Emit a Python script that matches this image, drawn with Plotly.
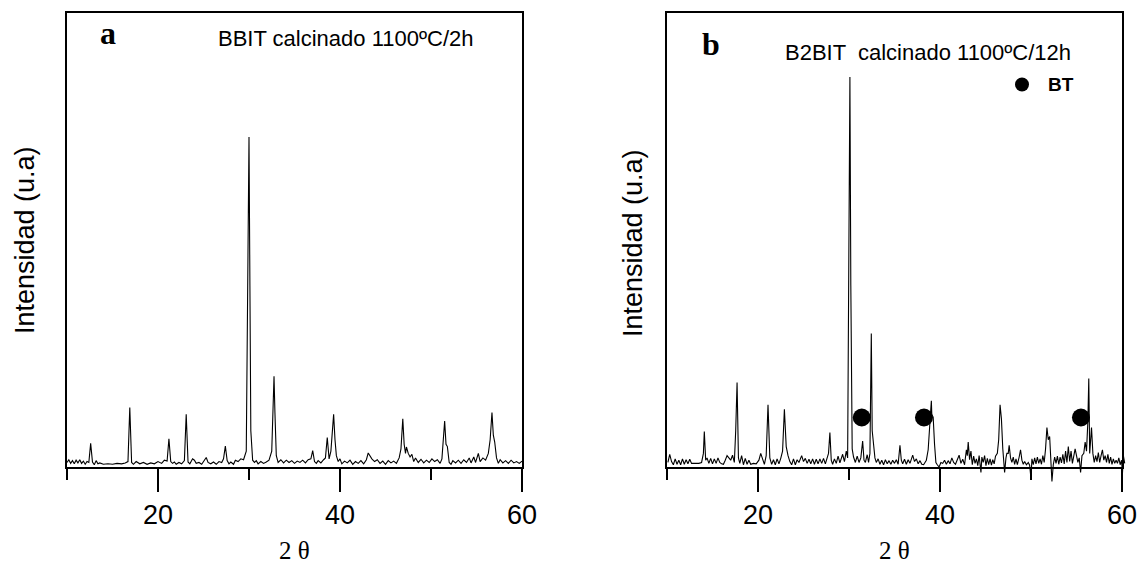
import plotly.graph_objects as go

# ---------------- data ----------------
two_theta_a = [10.0, 10.2, 10.4, 10.6, 10.8, 11.0, 11.2, 11.4, 11.6, 11.8, 12.0, 12.2, 12.4, 12.6, 12.8,
               13.0, 13.2, 13.4, 13.6, 14.0, 14.5, 15.0, 15.5, 16.0, 16.4, 16.7, 16.9, 17.1, 17.3, 17.6,
               18.0, 18.4, 18.8, 19.2, 19.6, 20.0, 20.4, 20.7, 21.0, 21.2, 21.4, 21.6, 21.8, 22.0, 22.3,
               22.6, 22.9, 23.1, 23.3, 23.5, 23.8, 24.0, 24.2, 24.5, 24.8, 25.0, 25.3, 25.5, 25.8, 26.1,
               26.4, 26.7, 27.0, 27.2, 27.4, 27.6, 27.8, 28.0, 28.3, 28.5, 28.8, 29.1, 29.4, 29.7, 29.9,
               30.0, 30.1, 30.2, 30.4, 30.6, 30.8, 31.0, 31.3, 31.6, 31.9, 32.2, 32.5, 32.65, 32.75, 32.85,
               33.0, 33.2, 33.5, 33.8, 34.1, 34.4, 34.7, 35.0, 35.3, 35.6, 35.9, 36.2, 36.5, 36.8, 37.0,
               37.2, 37.4, 37.6, 37.9, 38.2, 38.4, 38.6, 38.8, 39.0, 39.2, 39.3, 39.45, 39.6, 39.8, 40.0,
               40.2, 40.5, 40.8, 41.1, 41.4, 41.7, 42.0, 42.3, 42.6, 42.9, 43.1, 43.3, 43.5, 43.8, 44.1,
               44.4, 44.7, 45.0, 45.3, 45.6, 45.9, 46.2, 46.5, 46.7, 46.9, 47.05, 47.2, 47.3, 47.5, 47.7,
               47.9, 48.1, 48.3, 48.6, 48.9, 49.2, 49.5, 49.8, 50.1, 50.4, 50.7, 51.0, 51.2, 51.35, 51.5,
               51.65, 51.8, 52.0, 52.2, 52.4, 52.7, 53.0, 53.3, 53.6, 53.9, 54.2, 54.4, 54.7, 54.9, 55.2,
               55.4, 55.7, 56.0, 56.3, 56.5, 56.7, 56.85, 57.0, 57.2, 57.4, 57.6, 57.9, 58.2, 58.5, 58.8,
               59.1, 59.4, 59.7, 60.0]
intensity_a = [1.0, 1.6, 0.8, 1.4, 0.7, 1.5, 0.9, 1.6, 0.8, 1.3, 0.6, 1.2, 1.0, 5.2, 1.1,
               0.5, 1.4, 0.7, 0.9, 0.6, 0.7, 0.6, 0.8, 0.7, 0.9, 1.2, 13.1, 1.0, 0.6, 1.2,
               0.7, 1.0, 0.6, 0.9, 0.7, 1.2, 0.8, 1.5, 1.3, 6.2, 1.2, 0.8, 1.1, 0.6, 1.0,
               0.7, 1.4, 11.6, 1.1, 0.7, 1.8, 1.5, 0.8, 1.0, 0.6, 1.2, 2.1, 1.0, 0.7, 1.1,
               0.6, 1.2, 1.0, 1.8, 4.6, 1.4, 0.7, 1.1, 0.6, 1.5, 1.2, 1.8, 1.6, 3.5, 40.0,
               72.7, 40.0, 8.0, 1.5, 1.0, 1.4, 0.7, 1.2, 0.8, 1.1, 1.5, 3.5, 15.0, 20.0, 12.0,
               2.5, 1.0, 1.6, 0.9, 1.5, 1.0, 1.4, 0.8, 1.3, 1.0, 1.5, 0.9, 1.6, 1.8, 3.6,
               1.2, 0.8, 1.4, 0.9, 1.6, 2.0, 6.5, 1.8, 3.5, 9.0, 11.6, 6.0, 2.5, 1.2, 1.8,
               0.7, 1.3, 0.9, 1.5, 0.6, 1.2, 0.8, 1.4, 0.7, 1.6, 3.1, 2.4, 1.8, 1.2, 1.6,
               0.8, 1.3, 0.6, 1.4, 0.9, 1.3, 0.8, 2.0, 4.0, 10.6, 5.0, 3.0, 4.4, 3.0, 2.2,
               2.8, 1.2, 2.0, 1.0, 1.7, 0.9, 1.5, 1.0, 1.8, 1.2, 1.6, 0.8, 1.8, 6.0, 10.1,
               5.0, 4.5, 1.0, 0.6, 1.4, 0.9, 1.5, 0.8, 1.6, 1.0, 2.0, 0.9, 2.2, 1.0, 3.0,
               1.2, 2.0, 1.5, 3.0, 6.0, 12.0, 7.0, 5.5, 2.0, 0.8, 1.6, 0.9, 1.4, 0.8, 1.5,
               0.9, 1.2, 0.8, 1.3]

two_theta_b = [10.1, 10.3, 10.5, 10.7, 10.9, 11.1, 11.3, 11.5, 11.7, 11.9, 12.1, 12.3, 12.5, 12.7, 12.9,
               13.2, 13.5, 13.8, 14.0, 14.1, 14.25, 14.4, 14.6, 14.8, 15.0, 15.2, 15.4, 15.6, 15.8, 16.0,
               16.2, 16.4, 16.6, 16.8, 17.0, 17.2, 17.4, 17.55, 17.7, 17.85, 18.0, 18.2, 18.4, 18.6, 18.8,
               19.0, 19.2, 19.5, 19.8, 20.1, 20.3, 20.5, 20.7, 20.9, 21.1, 21.3, 21.5, 21.7, 21.9, 22.1,
               22.3, 22.5, 22.7, 22.9, 23.1, 23.3, 23.5, 23.7, 23.9, 24.1, 24.3, 24.5, 24.8, 25.0, 25.2,
               25.4, 25.6, 25.8, 26.0, 26.2, 26.4, 26.6, 26.8, 27.0, 27.2, 27.4, 27.6, 27.75, 27.9, 28.05,
               28.2, 28.4, 28.6, 28.8, 29.0, 29.3, 29.5, 29.7, 29.85, 30.0, 30.1, 30.2, 30.35, 30.5, 30.7,
               30.9, 31.1, 31.3, 31.5, 31.65, 31.8, 32.0, 32.15, 32.3, 32.45, 32.55, 32.7, 32.85, 33.0, 33.2,
               33.4, 33.6, 33.8, 34.0, 34.2, 34.4, 34.6, 34.8, 35.0, 35.2, 35.4, 35.6, 35.75, 35.9, 36.1,
               36.3, 36.5, 36.7, 37.0, 37.2, 37.4, 37.6, 37.8, 38.0, 38.2, 38.5, 38.7, 38.85, 39.05, 39.1,
               39.25, 39.4, 39.55, 39.7, 39.9, 40.1, 40.3, 40.5, 40.7, 40.9, 41.1, 41.3, 41.5, 41.7, 41.9,
               42.1, 42.3, 42.5, 42.7, 42.9, 43.0, 43.1, 43.25, 43.4, 43.55, 43.7, 43.85, 44.0, 44.15, 44.3,
               44.5, 44.6, 44.75, 44.9, 45.05, 45.2, 45.35, 45.5, 45.65, 45.8, 45.95, 46.1, 46.3, 46.45, 46.6,
               46.75, 46.9, 47.0, 47.1, 47.25, 47.35, 47.5, 47.6, 47.75, 47.9, 48.05, 48.2, 48.35, 48.5, 48.7,
               48.85, 49.0, 49.15, 49.3, 49.5, 49.7, 49.85, 50.0, 50.1, 50.25, 50.4, 50.55, 50.7, 50.85, 51.0,
               51.15, 51.3, 51.45, 51.6, 51.75, 51.9, 52.05, 52.15, 52.3, 52.45, 52.6, 52.75, 52.9, 53.05, 53.2,
               53.35, 53.5, 53.65, 53.8, 53.95, 54.1, 54.25, 54.4, 54.55, 54.7, 54.85, 55.0, 55.15, 55.3, 55.45,
               55.6, 55.8, 55.95, 56.1, 56.25, 56.35, 56.45, 56.55, 56.65, 56.8, 56.95, 57.1, 57.25, 57.4, 57.55,
               57.7, 57.85, 58.0, 58.15, 58.3, 58.45, 58.6, 58.75, 58.9, 59.05, 59.2, 59.35, 59.5, 59.65, 59.8,
               59.95, 60.05, 60.15, 60.3]
intensity_b = [1.0, 2.8, 1.2, 0.5, 1.8, 0.6, 1.5, 0.5, 1.8, 0.6, 1.6, 0.7, 1.7, 0.8, 0.8,
               0.8, 0.8, 1.0, 3.0, 7.8, 1.5, 2.0, 0.8, 1.9, 0.7, 1.8, 0.8, 2.0, 1.0, 0.7,
               0.6, 1.5, 2.5, 2.0, 1.5, 2.6, 1.0, 8.0, 18.6, 2.0, 0.8, 2.5, 0.5, 1.9, 0.6,
               1.5, 0.6, 0.8, 0.7, 1.5, 3.0, 1.8, 0.6, 2.5, 13.7, 2.0, 0.6, 1.6, 0.5, 1.8,
               0.7, 1.9, 3.5, 12.7, 4.5, 2.5, 1.2, 0.5, 1.8, 0.5, 1.6, 1.0, 2.5, 1.2, 1.9,
               0.8, 1.7, 0.7, 1.8, 0.6, 1.7, 0.7, 1.8, 0.8, 1.9, 0.7, 2.0, 3.0, 7.6, 1.5,
               0.6, 1.8, 0.8, 2.4, 0.9, 2.8, 1.2, 3.5, 2.0, 40.0, 85.9, 40.0, 4.0, 2.2, 1.0,
               2.4, 1.0, 2.0, 5.7, 1.5, 1.0, 2.7, 1.0, 3.0, 29.4, 8.0, 5.5, 2.0, 1.0, 1.8,
               0.6, 1.5, 0.5, 1.6, 0.7, 1.4, 0.6, 1.5, 0.8, 1.6, 0.6, 4.8, 1.5, 0.7, 1.7,
               0.6, 1.6, 0.8, 2.6, 1.2, 1.8, 0.7, 1.4, 0.6, 0.5, 1.5, 3.8, 8.0, 14.6, 11.5,
               11.0, 5.0, 1.0, 0.5, 0.0, 1.0, 0.8, 1.5, 0.6, 1.4, 0.7, 2.0, 1.0, 0.6, 1.5,
               2.6, 0.8, 1.7, 0.5, 3.8, 2.5, 5.5, 1.6, 3.5, 0.5, 2.4, 0.8, 1.8, 0.3, 2.5,
               -1.2, 2.2, 1.0, 2.5, 0.3, 1.9, 0.5, 1.8, 0.4, 1.6, 0.7, 2.4, 3.0, 6.0, 13.7,
               10.6, 4.0, 1.0, -1.2, 2.0, 3.0, 3.0, 4.8, 2.0, 1.0, 2.2, 0.6, 1.8, 0.5, 2.2,
               3.8, 1.5, 0.6, 1.2, 0.5, 1.0, 0.4, -2.6, 1.8, 0.5, 2.0, 0.7, 2.2, 0.8, 1.8,
               0.6, 2.5, 1.0, 4.0, 8.7, 6.0, 6.7, 2.0, -3.2, 0.5, 2.2, 0.8, 2.4, 0.6, 2.2,
               0.9, 2.8, 0.7, 3.5, 1.0, 4.5, 1.2, 3.5, 0.8, 3.0, 4.0, 2.5, 1.0, 2.0, -1.2,
               2.5, 3.0, 5.5, 3.5, 10.0, 19.5, 3.0, 6.0, 8.7, 3.0, 1.0, 2.5, 1.2, 3.2, 1.0,
               2.5, 3.8, 1.5, 2.5, 1.0, 2.8, 0.8, 2.2, 0.6, 1.8, 0.8, 1.5, 0.8, 2.0, 0.5,
               1.5, -1.5, 2.5, 0.8]

bt_positions = [31.4, 38.24, 55.49]
bt_level = [10.9, 10.9, 10.9]

x_ticks = [20, 40, 60]
x_minor_ticks = [10, 30, 50]
x_range = [10, 60]
y_range = [0, 100]

# ---------------- layout geometry (pixels of the 1142 x 563 target) ----------------
W, H = 1142, 563
FIG_W = 1157          # the captured picture comes out ~1.3 % narrower than the page
TOP, BOT = 13, 467
PANELS = [(67, 522), (667, 1122)]
EXT_B, EXT_R = 24, 12


def fx(px):
    return px / W


def fy(py):
    return 1 - py / H


fig = go.Figure()

tickfont = dict(family="Liberation Sans, Arial, sans-serif", size=27, color="black")

layout = dict(
    width=FIG_W, height=H, autosize=False,
    margin=dict(l=0, r=0, t=0, b=0),
    paper_bgcolor="white",
    plot_bgcolor="rgba(0,0,0,0)",
    showlegend=False,
)

ppu_y = (BOT - TOP) / (y_range[1] - y_range[0])
for i, (x0, x1) in enumerate(PANELS):
    n = i + 1
    xs = "" if n == 1 else str(n)
    ppu_x = (x1 - x0) / (x_range[1] - x_range[0])
    layout["xaxis" + xs] = dict(
        domain=[fx(x0), fx(x1)], range=x_range, anchor="y" + xs,
        tickmode="array", tickvals=x_ticks, ticks="outside", ticklen=23, tickwidth=2,
        tickcolor="black", showline=True, linewidth=2, linecolor="black", mirror=True,
        showgrid=False, zeroline=False, tickfont=tickfont,
        minor=dict(ticks="outside", ticklen=11, tickwidth=2, tickcolor="black",
                   tickmode="array", tickvals=x_minor_ticks, showgrid=False),
    )
    layout["yaxis" + xs] = dict(
        domain=[fy(BOT), fy(TOP)], range=y_range, anchor="x" + xs,
        showline=True, linewidth=2, linecolor="black", mirror=True,
        ticks="", showticklabels=False, showgrid=False, zeroline=False,
    )
    m = n + 2
    layout["xaxis%d" % m] = dict(
        domain=[fx(x0), fx(x1 + EXT_R)],
        range=[x_range[0], x_range[1] + EXT_R / ppu_x],
        anchor="y%d" % m, visible=False,
    )
    layout["yaxis%d" % m] = dict(
        domain=[fy(BOT + EXT_B), fy(TOP)],
        range=[y_range[0] - EXT_B / ppu_y, y_range[1]],
        anchor="x%d" % m, visible=False,
    )

fig.update_layout(**layout)

for xs in ["", "2"]:
    fig.add_trace(go.Scatter(x=[x_range[0]], y=[y_range[0]], mode="markers",
                             marker=dict(opacity=0), hoverinfo="skip",
                             xaxis="x" + xs, yaxis="y" + xs, showlegend=False))

fig.add_trace(go.Scatter(x=two_theta_a, y=intensity_a, mode="lines",
                         line=dict(color="black", width=1.1), xaxis="x3", yaxis="y3",
                         name="BBIT"))
fig.add_trace(go.Scatter(x=two_theta_b, y=intensity_b, mode="lines",
                         line=dict(color="black", width=1.1), xaxis="x4", yaxis="y4",
                         name="B2BIT"))
fig.add_trace(go.Scatter(x=bt_positions, y=bt_level, mode="markers",
                         marker=dict(color="black", size=18, symbol="circle"),
                         xaxis="x4", yaxis="y4", name="BT", cliponaxis=False))

ann = []
serif = "Liberation Serif, Times New Roman, serif"
sans = "Liberation Sans, Arial, sans-serif"
for xc, yc in [(25, 240), (633, 243)]:
    ann.append(dict(text="Intensidad (u.a)", x=fx(xc), y=fy(yc), xref="paper", yref="paper",
                    textangle=-90, showarrow=False, xanchor="center", yanchor="middle",
                    font=dict(family=sans, size=27, color="black")))
for xc in [294.5, 894.5]:
    ann.append(dict(text="2 θ", x=fx(xc), y=fy(550), xref="paper", yref="paper",
                    showarrow=False, xanchor="center", yanchor="middle",
                    font=dict(family=serif, size=25, color="black")))
ann.append(dict(text="<b>a</b>", x=fx(108), y=fy(33), xref="paper", yref="paper",
                showarrow=False, xanchor="center", yanchor="middle",
                font=dict(family=serif, size=32, color="black")))
ann.append(dict(text="<b>b</b>", x=fx(711), y=fy(44), xref="paper", yref="paper",
                showarrow=False, xanchor="center", yanchor="middle",
                font=dict(family=serif, size=32, color="black")))
ann.append(dict(text="BBIT calcinado 1100ºC/2h", x=fx(345.5), y=fy(39), xref="paper", yref="paper",
                showarrow=False, xanchor="center", yanchor="middle",
                font=dict(family=sans, size=22, color="black")))
ann.append(dict(text="B2BIT  calcinado 1100ºC/12h", x=fx(928), y=fy(52), xref="paper", yref="paper",
                showarrow=False, xanchor="center", yanchor="middle",
                font=dict(family=sans, size=22, color="black")))
ann.append(dict(text="<b>BT</b>", x=fx(1060.5), y=fy(84.5), xref="paper", yref="paper",
                showarrow=False, xanchor="center", yanchor="middle",
                font=dict(family=sans, size=19, color="black")))
fig.update_layout(annotations=ann)
fig.add_shape(type="circle", xref="paper", yref="paper",
              x0=fx(1015), x1=fx(1029), y0=fy(91.5), y1=fy(77.5),
              fillcolor="black", line=dict(color="black", width=0))

fig.write_html("out.html")
